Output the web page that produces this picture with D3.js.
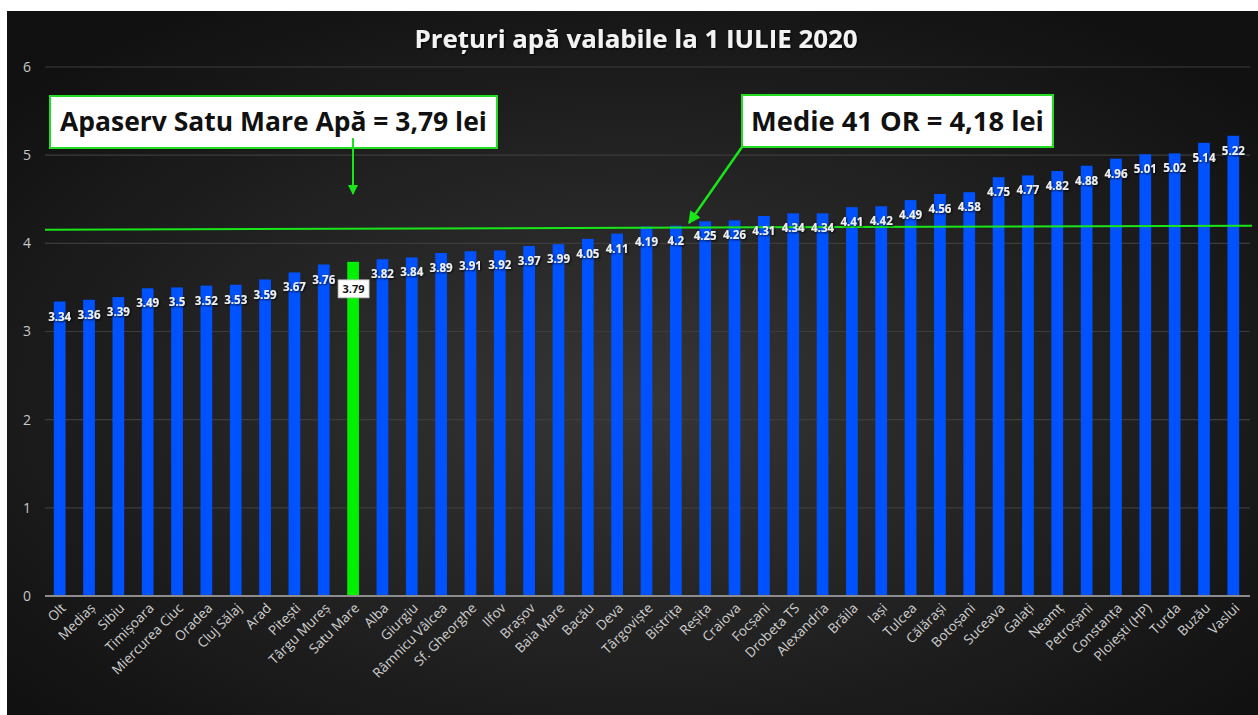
<!DOCTYPE html>
<html><head><meta charset="utf-8">
<script src="https://cdn.jsdelivr.net/npm/d3@7"></script>
<style>
html,body{margin:0;padding:0;background:#fff;}
svg{display:block;}
</style></head>
<body>
<svg id="chart" width="1258" height="715"></svg>
<script>
const categories = ["Olt","Mediaș","Sibiu","Timișoara","Miercurea Ciuc","Oradea","Cluj Sălaj","Arad","Pitești","Târgu Mureș","Satu Mare","Alba","Giurgiu","Râmnicu Vâlcea","Sf. Gheorghe","Ilfov","Brașov","Baia Mare","Bacău","Deva","Târgoviște","Bistrița","Reșița","Craiova","Focșani","Drobeta TS","Alexandria","Brăila","Iași","Tulcea","Călărași","Botoșani","Suceava","Galați","Neamț","Petroșani","Constanța","Ploiești (HP)","Turda","Buzău","Vaslui"];
const values = [3.34,3.36,3.39,3.49,3.5,3.52,3.53,3.59,3.67,3.76,3.79,3.82,3.84,3.89,3.91,3.92,3.97,3.99,4.05,4.11,4.19,4.2,4.25,4.26,4.31,4.34,4.34,4.41,4.42,4.49,4.56,4.58,4.75,4.77,4.82,4.88,4.96,5.01,5.02,5.14,5.22];
const highlight = "Satu Mare";
const yTicks = [0,1,2,3,4,5,6];
const averageLine = [4.155, 4.2]; // drawn line (start, end) around the 4.18 average
const titleText = "Prețuri apă valabile la 1 IULIE 2020";
const callout1Text = "Apaserv Satu Mare Apă = 3,79 lei";
const callout2Text = "Medie 41 OR = 4,18 lei";

const svg = d3.select("#chart");
const defs = svg.append("defs");
const grad = defs.append("radialGradient").attr("id","bg")
  .attr("cx","50%").attr("cy","55%").attr("r","65%");
grad.append("stop").attr("offset","0%").attr("stop-color","#363636");
grad.append("stop").attr("offset","100%").attr("stop-color","#111111");
const sh = defs.append("filter").attr("id","shadow").attr("x","-20%").attr("y","-40%").attr("width","140%").attr("height","180%");
sh.append("feDropShadow").attr("dx",1).attr("dy",1).attr("stdDeviation",1).attr("flood-color","#000").attr("flood-opacity",0.9);
defs.append("marker").attr("id","arrow").attr("viewBox","0 0 10 10").attr("refX",9).attr("refY",5)
  .attr("markerWidth",5).attr("markerHeight",5).attr("orient","auto-start-reverse").attr("markerUnits","strokeWidth")
  .append("path").attr("d","M0,0 L10,5 L0,10 z").attr("fill","#19e619");

svg.append("rect").attr("x",7).attr("y",11).attr("width",1251).attr("height",704).attr("fill","url(#bg)");

const x = d3.scaleBand().domain(categories).range([45,1248]).paddingInner(0.6).paddingOuter(0.3);
const y = d3.scaleLinear().domain([0,6]).range([596,67]);

// gridlines
svg.append("g").selectAll("line").data(yTicks.filter(t=>t>0)).join("line")
  .attr("x1",45).attr("x2",1250).attr("y1",d=>y(d)).attr("y2",d=>y(d))
  .attr("stroke","#3c3c3c").attr("stroke-width",1.2);

// y axis
const yAxis = svg.append("g").attr("transform","translate(37,0)")
  .call(d3.axisLeft(y).tickValues(yTicks).tickSize(0).tickPadding(6).tickFormat(d3.format("d")));
yAxis.select(".domain").remove();
yAxis.selectAll("text").attr("fill","#c8c8c8").attr("font-family","Open Sans").attr("font-size",14);

// bars
svg.append("g").selectAll("rect").data(categories).join("rect")
  .attr("x",d=>x(d)).attr("width",x.bandwidth())
  .attr("y",(d,i)=>y(values[i])).attr("height",(d,i)=>y(0)-y(values[i]))
  .attr("fill",d=>d===highlight?"#00f000":"#0052ff");

// baseline
svg.append("line").attr("x1",45).attr("x2",1250).attr("y1",y(0)).attr("y2",y(0))
  .attr("stroke","#8c8c8c").attr("stroke-width",2);

// x axis labels
const xAxis = svg.append("g").attr("transform",`translate(0,${y(0)})`)
  .call(d3.axisBottom(x).tickSize(0).tickPadding(0));
xAxis.select(".domain").remove();
xAxis.selectAll("text")
  .attr("fill","#d0d0d0").attr("font-family","Open Sans").attr("font-size",13.5)
  .attr("text-anchor","end").attr("dy",0)
  .attr("transform","translate(7,13) rotate(-45)");

// average line
svg.append("line").attr("x1",45).attr("x2",1252)
  .attr("y1",y(averageLine[0])).attr("y2",y(averageLine[1]))
  .attr("stroke","#19e619").attr("stroke-width",2);

// value labels
const lbl = svg.append("g");
categories.forEach((c,i)=>{
  const cx = x(c)+x.bandwidth()/2;
  const cy = y(values[i])+15;
  const txt = String(values[i]);
  if(c===highlight){
    const g = lbl.append("g");
    g.append("rect").attr("x",cx-15).attr("y",cy+12-9).attr("width",31).attr("height",18)
      .attr("fill","#fff").attr("stroke","#bbb").attr("stroke-width",0.8);
    g.append("text").attr("x",cx+0.5).attr("y",cy+12).attr("dy","0.35em").attr("text-anchor","middle")
      .attr("font-family","Open Sans").attr("font-weight","bold").attr("font-size",11).attr("fill","#111").text(txt);
  } else {
    lbl.append("text").attr("x",cx).attr("y",cy).attr("dy","0.35em").attr("text-anchor","middle")
      .attr("font-family","Open Sans").attr("font-weight","bold").attr("font-size",11.5)
      .attr("fill","#f0f0f0").attr("filter","url(#shadow)").text(txt);
  }
});

function fit(sel, target, size){
  sel.attr("font-size",size);
  const w = sel.node().getComputedTextLength();
  sel.attr("font-size", size*target/w);
}

// title
const t = svg.append("text").attr("x",636).attr("y",39).attr("dy","0.35em").attr("text-anchor","middle")
  .attr("font-family","Open Sans").attr("font-weight","bold").attr("fill","#f2f2f2")
  .attr("filter","url(#shadow)").text(titleText);
fit(t, 443, 22);

// callout 1
svg.append("rect").attr("x",50).attr("y",96).attr("width",447).attr("height",52)
  .attr("fill","#fff").attr("stroke","#22dd22").attr("stroke-width",2);
const c1 = svg.append("text").attr("x",273.5).attr("y",122).attr("dy","0.35em").attr("text-anchor","middle")
  .attr("font-family","Open Sans").attr("font-weight","bold").attr("fill","#111").text(callout1Text);
fit(c1, 427, 26);
svg.append("line").attr("x1",353).attr("y1",138).attr("x2",353).attr("y2",194)
  .attr("stroke","#19e619").attr("stroke-width",2).attr("marker-end","url(#arrow)");

// callout 2
svg.append("line").attr("x1",742).attr("y1",147).attr("x2",689).attr("y2",223)
  .attr("stroke","#19e619").attr("stroke-width",2.5).attr("marker-end","url(#arrow)");
svg.append("rect").attr("x",742).attr("y",95).attr("width",311).attr("height",52)
  .attr("fill","#fff").attr("stroke","#22dd22").attr("stroke-width",2);
const c2 = svg.append("text").attr("x",897.5).attr("y",121).attr("dy","0.35em").attr("text-anchor","middle")
  .attr("font-family","Open Sans").attr("font-weight","bold").attr("fill","#111").text(callout2Text);
fit(c2, 293, 26);
</script>
</body></html>
